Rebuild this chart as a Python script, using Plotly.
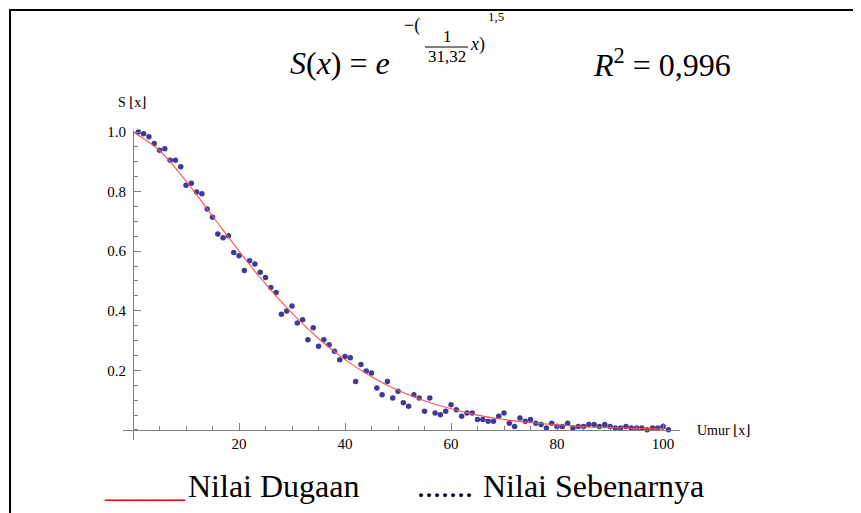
import plotly.graph_objects as go

# observed data (umur x, nilai sebenarnya S(x))
umur = list(range(1, 102))
s_obs = [
    1.000, 0.994, 0.984, 0.961, 0.939, 0.944, 0.905, 0.905, 0.883, 0.821,
    0.828, 0.799, 0.793, 0.742, 0.714, 0.658, 0.645, 0.652, 0.596, 0.585,
    0.535, 0.568, 0.557, 0.529, 0.512, 0.478, 0.461, 0.388, 0.399, 0.416,
    0.359, 0.370, 0.303, 0.343, 0.281, 0.303, 0.286, 0.264, 0.236, 0.247,
    0.242, 0.163, 0.220, 0.198, 0.191, 0.141, 0.118, 0.163, 0.107, 0.130,
    0.091, 0.080, 0.118, 0.107, 0.063, 0.107, 0.057, 0.051, 0.063, 0.085,
    0.068, 0.046, 0.057, 0.057, 0.035, 0.035, 0.029, 0.029, 0.046, 0.057,
    0.023, 0.012, 0.040, 0.029, 0.035, 0.023, 0.018, 0.007, 0.023, 0.012,
    0.012, 0.023, 0.007, 0.012, 0.012, 0.018, 0.018, 0.012, 0.018, 0.012,
    0.007, 0.007, 0.012, 0.007, 0.007, 0.007, 0.001, 0.007, 0.007, 0.012,
    0.001,
]

# fitted curve (nilai dugaan)
x_fit = [0, 5, 10, 15, 20, 25, 30, 35, 40, 45, 50, 55, 60, 65, 70, 75, 80, 85, 90, 95, 100]
s_fit = [1.000, 0.938, 0.835, 0.718, 0.600, 0.490, 0.392, 0.307, 0.236, 0.179, 0.133,
         0.098, 0.071, 0.050, 0.035, 0.025, 0.017, 0.011, 0.008, 0.005, 0.003]

x_ticks = [20, 40, 60, 80, 100]
y_ticks = [0.2, 0.4, 0.6, 0.8, 1.0]
y_ticktext = ['0.2', '0.4', '0.6', '0.8', '1.0']

# page body adds 8px, so lay out in target pixels minus that
OFF = 8
W, H = 861, 513
L, R, T, B = 123 - OFF, 181 + OFF, 130 - OFF, 73 + OFF
XR = [-1.89, 103.2]
YR = [-0.0336, 1.0067]


def px(x):
    return (x - OFF - L) / (W - L - R)


def py(y):
    return (H - B - (y - OFF)) / (H - T - B)


SERIF = 'Times New Roman, Liberation Serif, serif'
AXIS_GREY = '#808080'

fig = go.Figure()
fig.add_trace(go.Scatter(
    x=umur, y=s_obs, mode='markers',
    marker=dict(color='#3c3c98', size=5.5),
    cliponaxis=False, showlegend=False,
))
fig.add_trace(go.Scatter(
    x=x_fit, y=s_fit, mode='lines',
    line=dict(color='rgb(255,80,80)', width=1.1, shape='spline'),
    showlegend=False,
))

fig.update_layout(
    width=W, height=H,
    margin=dict(l=L, r=R, t=T, b=B, autoexpand=False),
    paper_bgcolor='white', plot_bgcolor='white',
    font=dict(family=SERIF, color='black'),
)
fig.update_xaxes(
    range=XR, anchor='free', position=(0 - YR[0]) / (YR[1] - YR[0]),
    automargin=False,
    showline=True, linecolor=AXIS_GREY, linewidth=1,
    showgrid=False, zeroline=False,
    ticks='inside', ticklen=7, tickcolor=AXIS_GREY,
    tickvals=x_ticks, ticktext=[str(v) for v in x_ticks],
    tickfont=dict(family=SERIF, size=15, color='black'),
    minor=dict(ticks='inside', dtick=5, tick0=0, ticklen=4, tickcolor=AXIS_GREY, showgrid=False),
)
fig.update_yaxes(
    range=YR, anchor='free', position=(0 - XR[0]) / (XR[1] - XR[0]),
    automargin=False,
    showline=True, linecolor=AXIS_GREY, linewidth=1,
    showgrid=False, zeroline=False,
    ticks='inside', ticklen=7, tickcolor=AXIS_GREY,
    tickvals=y_ticks, ticktext=y_ticktext,
    tickfont=dict(family=SERIF, size=15, color='black'),
    ticklabelstandoff=4,
    minor=dict(ticks='inside', dtick=0.05, tick0=0, ticklen=4, tickcolor=AXIS_GREY, showgrid=False),
)


def note(text, x, y, size, xanchor='left', color='black'):
    fig.add_annotation(
        text=text, x=px(x), y=py(y), xref='paper', yref='paper',
        xanchor=xanchor, yanchor='middle', showarrow=False,
        font=dict(family=SERIF, size=size, color=color),
    )


# formula heading
note('<i>S</i>(<i>x</i>) = <i>e</i>', 288, 63, 32)
note('\u2212(', 402, 25, 18)
note('1', 447, 36, 17, xanchor='center')
note('31,32', 447, 57, 17, xanchor='center')
note('<i>x</i>)', 468, 44, 18)
note('1,5', 486, 16, 13)
note('<i>R</i><sup>2</sup> = 0,996', 591, 63, 32)
fig.add_shape(type='line', xref='paper', yref='paper',
              x0=px(425), x1=px(468), y0=py(47), y1=py(47),
              line=dict(color='black', width=1))

# axis labels
note('S \u230ax\u230b', 116, 103, 14)
note('Umur \u230ax\u230b', 695, 430, 14)

# legend line under the chart
note('_____', 102, 486, 32, color='red')
note('Nilai Dugaan', 186, 486, 32)
note('.......', 415, 486, 32)
note('Nilai Sebenarnya', 481, 486, 32)

# page frame
fig.add_shape(type='rect', xref='paper', yref='paper',
              x0=px(10), y0=py(530), x1=px(880), y1=py(10),
              line=dict(color='black', width=2), layer='below')

fig.write_html('out.html')
